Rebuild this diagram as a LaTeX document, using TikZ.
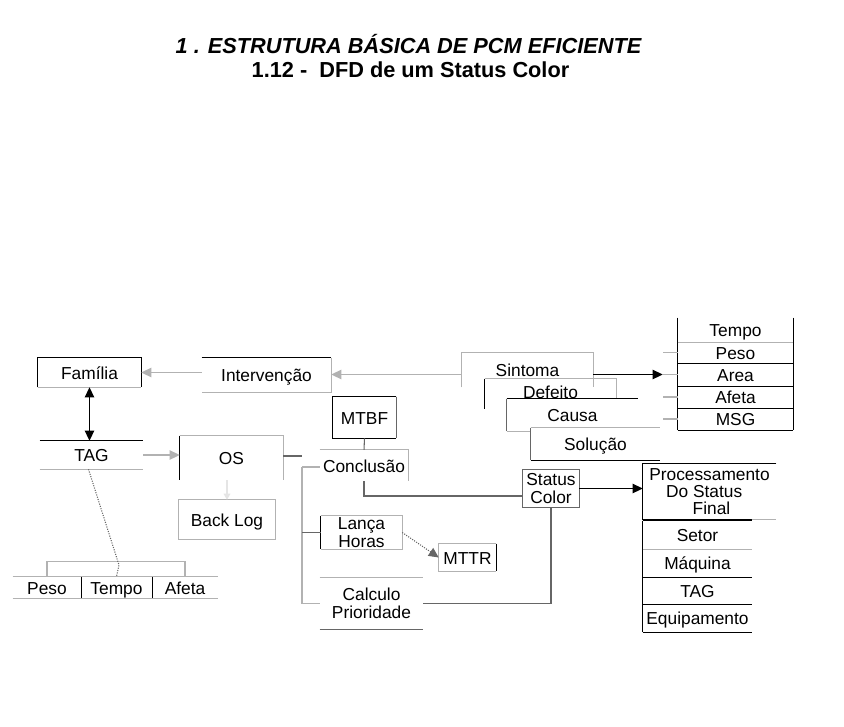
\documentclass[tikz,border=0pt]{standalone}
\usepackage{fontspec}
\setmainfont{Liberation Sans}
\usetikzlibrary{arrows.meta,calc}
\begin{document}
\begin{tikzpicture}[x=0.75pt,y=-0.75pt,
  lbl/.style={inner sep=0pt, font=\fontsize{13}{13.2}\selectfont, align=center},
  one/.style={text height=13.2pt, text depth=2.8pt},
  bx/.style 2 args={minimum width=#1*0.75pt, minimum height=#2*0.75pt},
  dk/.style={draw=black, line width=0.8pt},
  md/.style={draw=black!60, line width=0.8pt},
  lt/.style={draw=black!30, line width=0.8pt},
  tip/.style={-{Triangle[length=7.5pt,width=7pt]}},
  smalltip/.style={-{Triangle[length=4.5pt,width=5pt]}}]
\path[use as bounding box, fill=white] (0,0) rectangle (844,726);

% titles
\node[font=\fontsize{16.3}{18}\selectfont\bfseries\itshape] (t1) at (408.5,44) {1 . ESTRUTURA BÁSICA DE PCM EFICIENTE};
\node[font=\fontsize{16.3}{18}\selectfont\bfseries] (t2) at (410.5,70) {1.12 -\ \ DFD de um Status Color};

% left boxes
\node[lbl,one,bx={103}{29}] (fam) at (89.5,372.5) {Família};
\draw[dk] (fam.south west) -- (fam.north west) -- (fam.north east) -- (fam.south east);
\draw[lt] (fam.south west) -- (fam.south east);

\node[lbl,one,bx={129}{34}] (int) at (266.5,375) {Intervenção};
\draw[dk] (int.north west) -- (int.north east);
\draw[lt] (int.north east) -- (int.south east) -- (int.south west);

\node[lbl,one,bx={103}{28}] (tag) at (91.5,455) {TAG};
\draw[dk] (tag.north west) -- (tag.north east);
\draw[lt] (tag.south west) -- (tag.south east);

\node[lbl,one,bx={103}{44}] (os) at (231.5,458) {OS};
\draw[dk] (os.north west) -- (os.south west);
\draw[lt] (os.north west) -- (os.north east) -- (os.south east);

\node[lbl,one,bx={96}{39}] (bl) at (227,519.5) {Back Log};
\draw[lt] (bl.north west) rectangle (bl.south east);

\node[lbl,one,bx={63}{41}] (mtbf) at (364.5,417.5) {MTBF};
\draw[dk] (mtbf.north east) -- (mtbf.north west) -- (mtbf.south west) -- (mtbf.south east);
\draw[md] (mtbf.north east) -- (mtbf.south east);

\node[lbl,one,bx={88}{31}] (con) at (364,465.5) {Conclusão};
\draw[lt] (con.north west) -- (con.north east) -- (con.south east);

\node[lbl,bx={56}{37}] (sc) at (551,488.5) {Status\\Color};
\draw[md] (sc.north west) rectangle (sc.south east);

\node[lbl,bx={81}{33}] (lan) at (361.5,532.5) {Lança\\Horas};
\draw[dk] (lan.north west) -- (lan.south west);
\draw[lt] (lan.north west) -- (lan.north east) -- (lan.south east) -- (lan.south west);

\node[lbl,one,bx={57}{27}] (mttr) at (467.5,557.5) {MTTR};
\draw[lt] (mttr.north east) -- (mttr.north west) -- (mttr.south west) -- (mttr.south east);
\draw[dk] (mttr.north east) -- (mttr.south east);

\node[lbl,bx={103}{51}] (cal) at (371.5,603.5) {Calculo\\Prioridade};
\draw[lt] (cal.north west) -- (cal.north east);
\draw[md] (cal.south west) -- (cal.south east);

% stacked boxes
\node[lbl,one,bx={131}{34}] (sin) at (527.5,370) {Sintoma};
\draw[lt] (sin.south west) -- (sin.north west) -- (sin.north east) -- (sin.south east);

\node[lbl,one,bx={131}{30}] (def) at (550.5,394) {\raisebox{2pt}{Defeito}};
\draw[dk] (def.north west) -- (def.south west);
\draw[lt] (def.north west) -- (def.north east) -- (def.south east);

\node[lbl,one,bx={131}{32},fill=white] (cau) at (572.5,415) {Causa};
\draw[dk] (cau.north west) -- (cau.north east);
\draw[md] (cau.north west) -- (cau.south west);
\draw[lt] (cau.south west) -- (cau.south east);

\node[lbl,one,bx={129}{32},fill=white] (sol) at (595.5,444) {Solução};
\draw[lt] (sol.north west) -- (sol.north east);
\draw[md] (sol.north west) -- (sol.south west);
\draw[dk] (sol.south west) -- (sol.south east);

% right list
\node[lbl,one,bx={115}{24}] (rt1) at (735.5,330) {Tempo};
\node[lbl,one,bx={115}{21}] (rt2) at (735.5,352.5) {Peso};
\node[lbl,one,bx={115}{23}] (rt3) at (735.5,374.5) {Area};
\node[lbl,one,bx={115}{22}] (rt4) at (735.5,397) {Afeta};
\node[lbl,one,bx={115}{22}] (rt5) at (735.5,419) {MSG};
\draw[dk] (rt1.north west) -- (rt5.south west);
\draw[dk] (rt1.north east) -- (rt5.south east);
\draw[lt] (rt1.south west) -- (rt1.south east);
\draw[dk] (rt2.south west) -- (rt2.south east);
\draw[dk] (rt3.south west) -- (rt3.south east);
\draw[dk] (rt4.south west) -- (rt4.south east);
\draw[dk] (rt5.south west) -- (rt5.south east);
\foreach \r in {rt2,rt3,rt4,rt5} \draw[lt] (\r.west) -- ++(-15,0);

% processing
\node[lbl,bx={133}{55},font=\fontsize{13}{12.8}\selectfont] (pr) at (709.5,491.5) {Processamento\\\hspace*{-8pt}Do Status\\\hspace*{3pt}Final};
\draw[dk] (pr.north east) -- (pr.north west) -- (pr.south west) -- ($(pr.south west)+(109,0)$);
\draw[lt] ($(pr.south west)+(109,0)$) -- (pr.south east);

\node[lbl,one,bx={109}{28}] (st1) at (697.5,535) {Setor};
\node[lbl,one,bx={109}{28}] (st2) at (697.5,563) {Máquina};
\node[lbl,one,bx={109}{27}] (st3) at (697.5,590.5) {TAG};
\node[lbl,one,bx={109}{28}] (st4) at (697.5,618) {Equipamento};
\draw[dk] (st1.north west) -- (st4.south west);
\draw[dk] (st1.north west) -- (st1.north east);
\draw[lt] (st1.south west) -- (st1.south east);
\draw[dk] (st2.south west) -- (st2.south east);
\draw[dk] (st3.south west) -- (st3.south east);
\draw[dk] (st4.south west) -- (st4.south east);

% bottom left list
\node[lbl,one,bx={68}{21}] (b1) at (47,587.5) {Peso};
\node[lbl,one,bx={71}{21}] (b2) at (116.5,587.5) {Tempo};
\node[lbl,one,bx={66}{21}] (b3) at (185,587.5) {Afeta};
\draw[lt] (b1.north west) -- (b3.north east);
\draw[lt] (b1.south west) -- (b3.south east);
\draw[dk] (b1.north east) -- (b1.south east);
\draw[dk] (b2.north east) -- (b2.south east);
\draw[lt] (b1.north) -- ++(0,-15) -| (b3.north);

% connectors
\draw[lt, tip] (rt3.west -| sin.west) -- (rt3.west -| int.east);
\draw[lt, tip] (fam.east -| int.west) -- (fam.east);
\draw[dk, {Triangle[length=7.5pt,width=7pt]}-{Triangle[length=7.5pt,width=7pt]}] (fam.south) -- (fam.south |- tag.north);
\draw[lt, tip] (tag.east) -- (tag.east -| os.west);
\draw[draw=black!10, line width=0.8pt, smalltip] (bl.north |- os.south) -- (bl.north);
\coordinate (j1) at (302,456);
\coordinate (j2) at (302,467);
\draw[md] (os.east |- j1) -- (j1);
\draw[lt] (j2) -- (j2 -| con.west);
\draw[lt] (j2) |- (cal.west);
\draw[md] (lan.west) -- (lan.west -| j2);
\draw[md] (mtbf.south) -- (con.north);
\draw[md] (con.south) |- ($(sc.south west)!0.3!(sc.north west)$);
\draw[dk, tip] (sc.east) -- (sc.east -| pr.west);
\draw[md] (sc.south) |- (cal.east);
\draw[md, densely dotted, tip] (lan.east) -- (mttr.west);
\draw[dk, tip] (rt3.west -| sin.east) -- ($(rt3.west)+(-15,0)$);
\coordinate (k) at (119,565);
\draw[md, densely dotted] ($(tag.south)+(-3,0)$) -- (k) -- (b2.north);
\end{tikzpicture}
\end{document}
